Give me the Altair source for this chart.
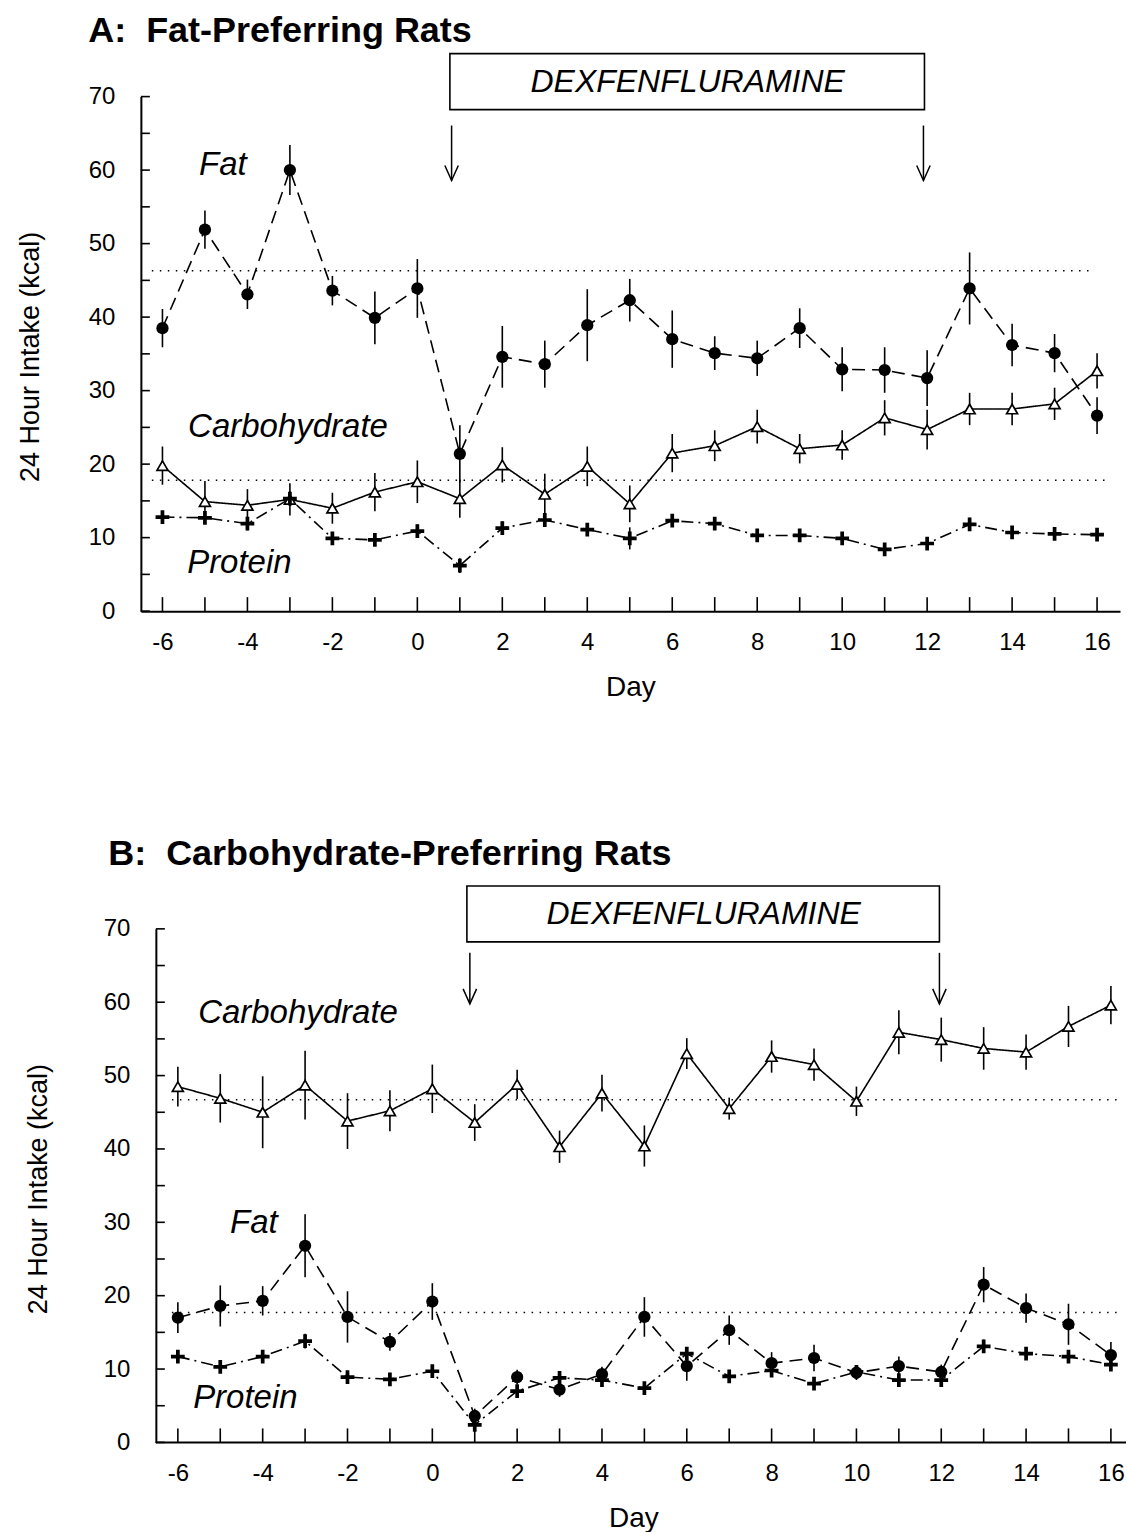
import altair as alt
import pandas as pd

FONT = "Liberation Sans"
DAYS = list(range(-6, 17))
X_LABELS = list(range(-6, 17, 2))
Y_LABELS = list(range(0, 71, 10))
Y_TICKS = list(range(0, 71, 5))

# ---------------- Panel A: Fat-preferring rats ----------------
A_FAT = [38.5, 51.9, 43.1, 60.0, 43.6, 39.9, 43.9, 21.4, 34.6, 33.6, 38.9, 42.3,
         37.0, 35.1, 34.4, 38.5, 32.9, 32.8, 31.7, 43.9, 36.2, 35.1, 26.6]
A_FAT_ERR = [2.6, 2.6, 2.0, 3.4, 2.0, 3.6, 4.0, 3.9, 4.2, 3.2, 4.9, 2.9,
             3.9, 2.3, 2.4, 2.7, 3.0, 3.1, 3.8, 4.9, 2.9, 2.6, 2.5]
A_CARB = [19.8, 14.9, 14.4, 15.2, 14.0, 16.2, 17.6, 15.3, 19.9, 15.9, 19.7, 14.6,
          21.5, 22.5, 25.1, 22.1, 22.6, 26.3, 24.7, 27.5, 27.5, 28.2, 32.7]
A_CARB_ERR = [2.6, 2.8, 2.2, 2.2, 2.1, 2.6, 2.9, 2.6, 2.4, 2.8, 2.7, 2.5,
              2.6, 2.1, 2.3, 2.0, 2.0, 2.4, 2.7, 2.2, 2.2, 2.2, 2.4]
A_PROT = [12.8, 12.7, 11.9, 15.3, 9.9, 9.7, 10.9, 6.2, 11.3, 12.4, 11.1, 9.9,
          12.3, 11.9, 10.3, 10.3, 9.9, 8.4, 9.2, 11.8, 10.7, 10.5, 10.4]
A_PROT_ERR = [0.8, 0.8, 0.9, 1.0, 0.8, 0.8, 0.9, 1.0, 0.9, 0.9, 0.8, 1.5,
              0.8, 0.8, 0.7, 0.7, 0.8, 0.8, 0.8, 0.9, 0.8, 0.7, 0.7]
A_REF = [46.3, 17.8]
A_REF_START = [-6.25, -6.25]
A_REF_END = [15.86, 16.22]

# ---------------- Panel B: Carbohydrate-preferring rats ----------------
B_FAT = [17.0, 18.6, 19.3, 26.8, 17.1, 13.7, 19.2, 3.6, 8.9, 7.2, 9.3, 17.1,
         10.4, 15.3, 10.8, 11.5, 9.5, 10.4, 9.6, 21.5, 18.3, 16.1, 11.9]
B_FAT_ERR = [2.1, 2.8, 2.0, 4.3, 3.5, 1.2, 2.5, 1.0, 1.0, 1.0, 1.0, 2.7,
             2.0, 2.0, 1.5, 1.8, 1.0, 1.3, 1.0, 2.4, 2.0, 2.8, 1.8]
B_CARB = [48.5, 46.9, 45.0, 48.7, 43.8, 45.2, 48.2, 43.6, 48.8, 40.3, 47.6, 40.4,
          53.0, 45.5, 52.6, 51.5, 46.5, 55.9, 54.9, 53.7, 53.2, 56.7, 59.6]
B_CARB_ERR = [2.7, 3.3, 4.9, 4.7, 3.8, 2.8, 3.3, 2.5, 2.0, 2.2, 2.5, 2.8,
              2.1, 1.5, 2.2, 2.2, 2.0, 3.0, 3.0, 2.9, 2.4, 2.8, 2.6]
B_PROT = [11.7, 10.3, 11.7, 13.8, 8.9, 8.6, 9.7, 2.4, 7.0, 8.8, 8.5, 7.4,
          12.1, 9.0, 9.8, 8.0, 9.6, 8.5, 8.5, 13.1, 12.1, 11.7, 10.6]
B_PROT_ERR = [0.8, 0.8, 0.8, 1.0, 0.8, 0.8, 0.8, 0.9, 0.8, 0.8, 0.8, 0.8,
              0.9, 0.8, 0.8, 0.8, 0.8, 0.7, 0.7, 0.9, 0.8, 0.8, 0.8]
B_REF = [46.7, 17.7]
B_REF_START = [-6.14, -6.14]
B_REF_END = [16.24, 16.24]

PLUS = ("M-1,-0.27L-0.27,-0.27L-0.27,-1L0.27,-1L0.27,-0.27L1,-0.27L1,0.27"
        "L0.27,0.27L0.27,1L-0.27,1L-0.27,0.27L-1,0.27Z")
ARROW = "M-0.9,-1L0,1L0.9,-1"

STYLE = {
    "Fat": dict(dash=[13, 7], shape="circle", fill="black", size=150),
    "Carbohydrate": dict(dash=[1, 0], shape="triangle-up", fill="white", size=120),
    "Protein": dict(dash=[12, 5, 2, 5], shape=PLUS, fill="black", size=190),
}


def series_frame(vals, errs):
    return pd.DataFrame({
        "day": DAYS,
        "value": vals,
        "lo": [v - e for v, e in zip(vals, errs)],
        "hi": [v + e for v, e in zip(vals, errs)],
    })


def panel(series, refs, width, height, xdom, y_off, show_xdomain, ytitle_x,
          title, title_pos, box, box_text_pos, arrows, labels):
    xs = alt.Scale(domain=xdom, nice=False, zero=False)
    ys = alt.Scale(domain=[0, 70], nice=False, zero=False)
    xaxis = alt.Axis(values=X_LABELS, ticks=False, grid=False, domain=show_xdomain,
                     domainWidth=2, domainColor="black", labelFont=FONT, labelFontSize=24,
                     labelColor="black", labelPadding=19, labelExpr="'' + datum.value",
                     title="Day", titleFont=FONT,
                     titleFontSize=28, titleFontWeight="normal", titleColor="black",
                     titleY=76, titleBaseline="middle")
    yaxis = alt.Axis(values=Y_LABELS, ticks=False, grid=False, offset=y_off,
                     domainWidth=2, domainColor="black", labelFont=FONT, labelFontSize=24,
                     labelColor="black", labelPadding=26, title="24 Hour Intake (kcal)",
                     titleFont=FONT, titleFontSize=27, titleFontWeight="normal",
                     titleColor="black", titleX=ytitle_x, titleY=260, titleAngle=270,
                     titleBaseline="middle")
    X = alt.X("day:Q", scale=xs, axis=xaxis)
    Y = alt.Y("value:Q", scale=ys, axis=yaxis)

    layers = []
    ref_df = pd.DataFrame({"day": refs[1], "day2": refs[2], "value": refs[0]})
    layers.append(alt.Chart(ref_df).mark_rule(color="black", strokeWidth=1.5,
                                               strokeDash=[1.5, 6.5]).encode(
        x=X, x2="day2:Q", y=Y))

    for name, df in series:
        layers.append(alt.Chart(df).mark_rule(color="black", strokeWidth=1.6).encode(
            x=X, y=alt.Y("lo:Q", scale=ys, axis=yaxis), y2="hi:Q"))
    for name, df in series:
        st = STYLE[name]
        layers.append(alt.Chart(df).mark_line(color="black", strokeWidth=1.6,
                                              strokeDash=st["dash"]).encode(x=X, y=Y))
    for name, df in series:
        st = STYLE[name]
        layers.append(alt.Chart(df).mark_point(shape=st["shape"], filled=True,
                                               fill=st["fill"], stroke="black",
                                               strokeWidth=1.7 if name == "Carbohydrate" else 0,
                                               size=st["size"], opacity=1).encode(x=X, y=Y))

    # inward-pointing ticks
    x0 = -y_off
    layers.append(alt.Chart(pd.DataFrame({"day": DAYS})).mark_rule(
        color="black", strokeWidth=1.6).encode(
        x=X, y=alt.value(height), y2=alt.value(height - 14)))
    layers.append(alt.Chart(pd.DataFrame({"value": Y_TICKS})).mark_rule(
        color="black", strokeWidth=1.6).encode(
        y=Y, x=alt.value(x0), x2=alt.value(x0 + 9)))
    if not show_xdomain:
        layers.append(alt.Chart(pd.DataFrame({"k": [0]})).mark_rule(
            color="black", strokeWidth=2).encode(
            x=alt.value(x0), x2=alt.value(width), y=alt.value(height)))

    # treatment box and arrows
    box_df = pd.DataFrame({"day": [box[0]], "day2": [box[1]], "value": [box[2]], "value2": [box[3]]})
    layers.append(alt.Chart(box_df).mark_rect(fill="white", stroke="black", strokeWidth=1.6).encode(
        x=X, x2="day2:Q", y=Y, y2="value2:Q"))
    bt_df = pd.DataFrame({"day": [box_text_pos[0]], "value": [box_text_pos[1]],
                          "label": ["DEXFENFLURAMINE"]})
    layers.append(alt.Chart(bt_df).mark_text(font=FONT, fontSize=32, fontStyle="italic",
                                             color="black", align="center",
                                             baseline="middle").encode(x=X, y=Y, text="label:N"))
    ar_df = pd.DataFrame({"day": arrows[0], "value": [arrows[1]] * 2, "value2": [arrows[2]] * 2})
    layers.append(alt.Chart(ar_df).mark_rule(color="black", strokeWidth=1.5).encode(
        x=X, y=Y, y2="value2:Q"))
    ah_df = pd.DataFrame({"day": arrows[0], "value": [arrows[3]] * 2})
    layers.append(alt.Chart(ah_df).mark_point(shape=ARROW, filled=False, color="black",
                                              strokeWidth=1.5, size=225, opacity=1).encode(x=X, y=Y))

    # series labels
    lab_df = pd.DataFrame({"day": [l[1] for l in labels], "value": [l[2] for l in labels],
                           "label": [l[0] for l in labels]})
    layers.append(alt.Chart(lab_df).mark_text(font=FONT, fontSize=33, fontStyle="italic",
                                              color="black", align="left",
                                              baseline="middle").encode(x=X, y=Y, text="label:N"))
    # panel title
    t_df = pd.DataFrame({"day": [title_pos[0]], "value": [title_pos[1]], "label": [title]})
    layers.append(alt.Chart(t_df).mark_text(font=FONT, fontSize=36, fontWeight="bold",
                                            color="black", align="left",
                                            baseline="middle").encode(x=X, y=Y, text="label:N"))

    return alt.layer(*layers).properties(width=width, height=height)


panel_a = panel(
    series=[("Fat", series_frame(A_FAT, A_FAT_ERR)),
            ("Carbohydrate", series_frame(A_CARB, A_CARB_ERR)),
            ("Protein", series_frame(A_PROT, A_PROT_ERR))],
    refs=(A_REF, A_REF_START, A_REF_END),
    width=980, height=515, xdom=[-6.508, 16.540], y_off=0, show_xdomain=True,
    ytitle_x=-110.7,
    title="A:\u00a0 Fat-Preferring Rats", title_pos=(-7.747, 78.9),
    box=(0.766, 11.937, 75.85, 68.23), box_text_pos=(6.364, 72.04),
    arrows=([0.806, 11.913], 66.06, 58.58, 59.6),
    labels=[("Fat", -5.137, 60.76), ("Carbohydrate", -5.396, 25.01), ("Protein", -5.419, 6.5)],
)

panel_b = panel(
    series=[("Carbohydrate", series_frame(B_CARB, B_CARB_ERR)),
            ("Protein", series_frame(B_PROT, B_PROT_ERR)),
            ("Fat", series_frame(B_FAT, B_FAT_ERR))],
    refs=(B_REF, B_REF_START, B_REF_END),
    width=986, height=514, xdom=[-6.872, 16.356], y_off=-15, show_xdomain=False,
    ytitle_x=-117.7,
    title="B:\u00a0 Carbohydrate-Preferring Rats", title_pos=(-7.642, 80.21),
    box=(0.815, 11.957, 75.85, 68.23), box_text_pos=(6.398, 72.04),
    arrows=([0.885, 11.957], 66.73, 59.79, 60.8),
    labels=[("Carbohydrate", -5.522, 58.56), ("Fat", -4.768, 29.96), ("Protein", -5.640, 6.1)],
)

chart = alt.vconcat(panel_a, panel_b, spacing=318, bounds="flush").properties(
    padding={"left": 16, "top": 12, "right": 0, "bottom": 0},
    background="white",
).configure_view(stroke=None)

chart.save("out.html", embed_options={"renderer": "svg", "actions": False})
